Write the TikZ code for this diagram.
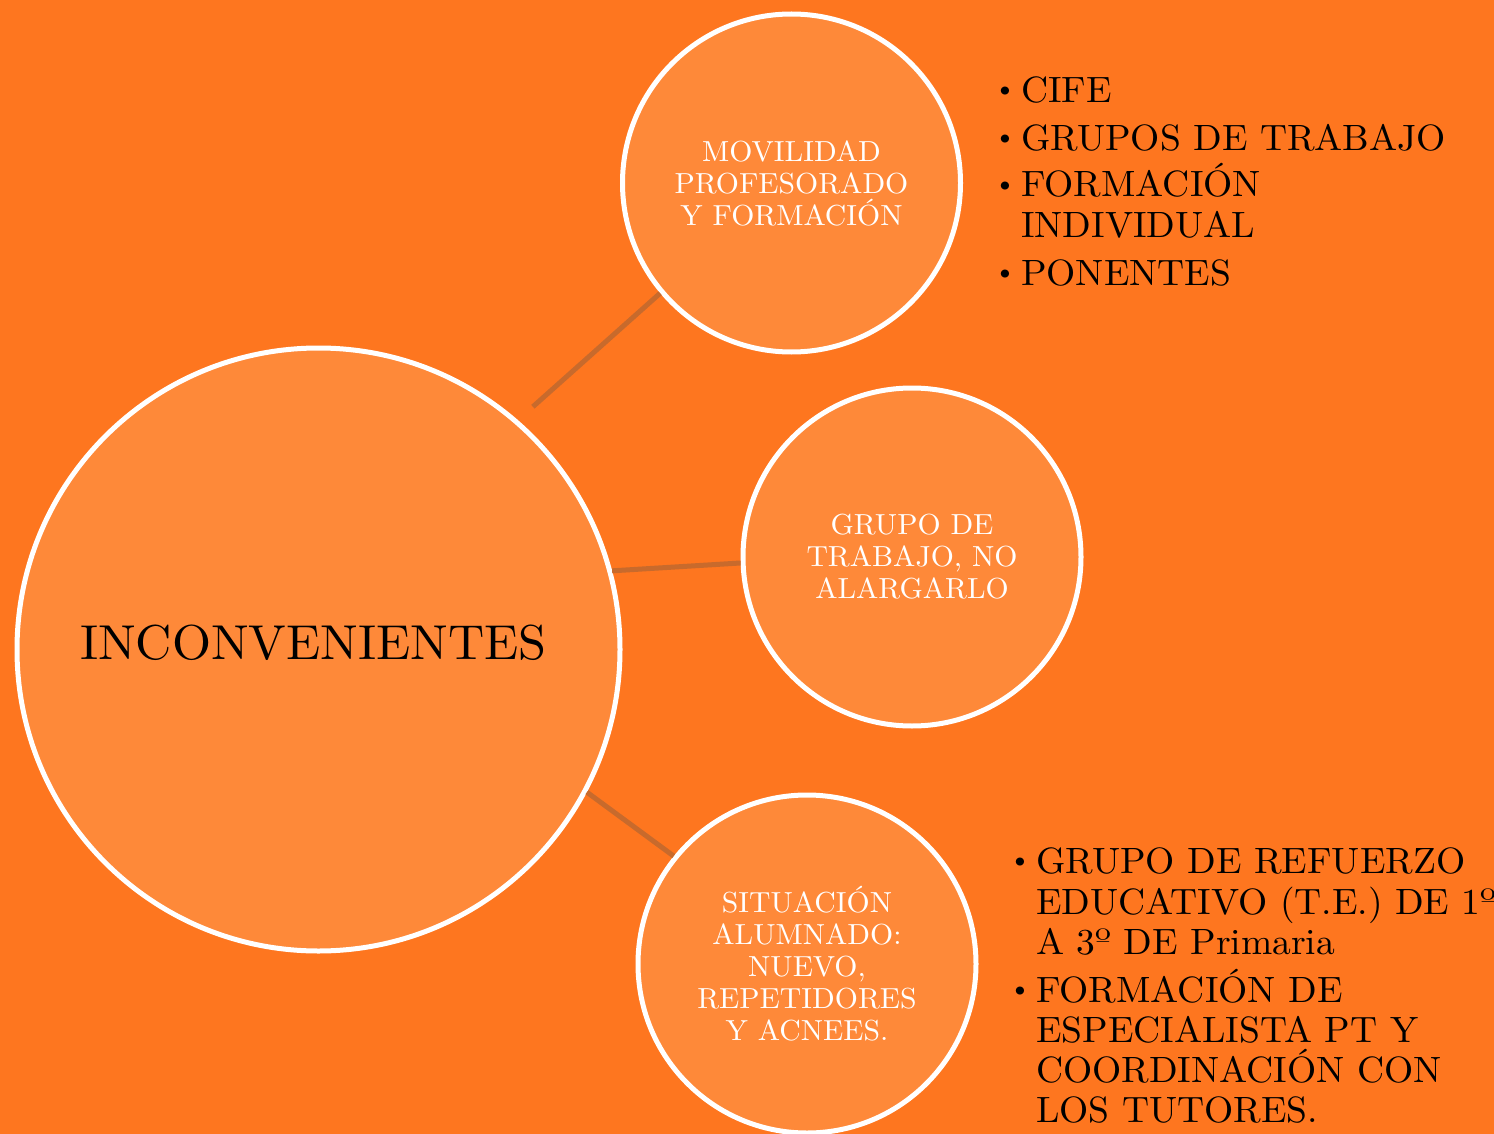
\documentclass[tikz,border=0pt]{standalone}
\usepackage{fontspec}
\setmainfont{lmroman10-regular.otf}[FakeStretch=1.025]
\definecolor{bgc}{RGB}{254,118,31}
\definecolor{bubfill}{RGB}{254,137,57}
\definecolor{connc}{RGB}{200,106,44}
\newcommand{\mybullet}{\llap{\raisebox{5pt}{\fontsize{28}{28}\selectfont\textbullet}\hspace{5pt}}}
\begin{document}
\begin{tikzpicture}[x=1pt,y=-1pt,
  bub/.style={circle, draw=white, line width=5pt, fill=bubfill, inner sep=0pt,
    align=center, text=white, font=\fontsize{29}{32}\selectfont},
  conn/.style={draw=connc, line width=5pt},
  listline/.style={anchor=base west, inner sep=0pt, text=black,
    font=\fontsize{36.6}{41}\selectfont}]
\useasboundingbox (0,0) rectangle (1494,1134);
\fill[bgc] (0,0) rectangle (1494,1134);

\node[bub, minimum size=603pt, text=black, font=\fontsize{49}{54}\selectfont,
  text height=34pt, text depth=15pt] (big) at (318.5,649.5) {INCONVENIENTES\hspace*{10pt}};
\node[bub, minimum size=338pt] (top) at (791.5,183) {MOVILIDAD\\PROFESORADO\\Y FORMACIÓN};
\node[bub, minimum size=338pt] (mid) at (912,557) {GRUPO DE\\TRABAJO, NO\\ALARGARLO};
\node[bub, minimum size=338pt] (bot) at (807,964) {SITUACIÓN\\ALUMNADO:\\NUEVO,\\REPETIDORES\\Y ACNEES.};

\draw[conn, shorten <=20pt] (big.49.1) -- (top.220.2);
\draw[conn] (big.15) -- (mid.182.6);
\draw[conn] (big.-28.1) -- (bot.141.8);

\node[listline] (a1) at (1021,103) {\mybullet CIFE};
\node[listline] (a2) at (1021,151) {\mybullet GRUPOS DE TRABAJO};
\node[listline] (a3) at (1021,197) {\mybullet FORMACIÓN};
\node[listline] (a4) at (1021,238) {INDIVIDUAL};
\node[listline] (a5) at (1021,285) {\mybullet PONENTES};

\node[listline] (b1) at (1036,873) {\mybullet GRUPO DE REFUERZO};
\node[listline] (b2) at (1036,914) {EDUCATIVO (T.E.) DE 1º};
\node[listline] (b3) at (1036,954) {A 3º DE Primaria};
\node[listline] (b4) at (1036,1002) {\mybullet FORMACIÓN DE};
\node[listline] (b5) at (1036,1042) {ESPECIALISTA PT Y};
\node[listline] (b6) at (1036,1082) {COORDINACIÓN CON};
\node[listline] (b7) at (1036,1122) {LOS TUTORES.};
\end{tikzpicture}
\end{document}
